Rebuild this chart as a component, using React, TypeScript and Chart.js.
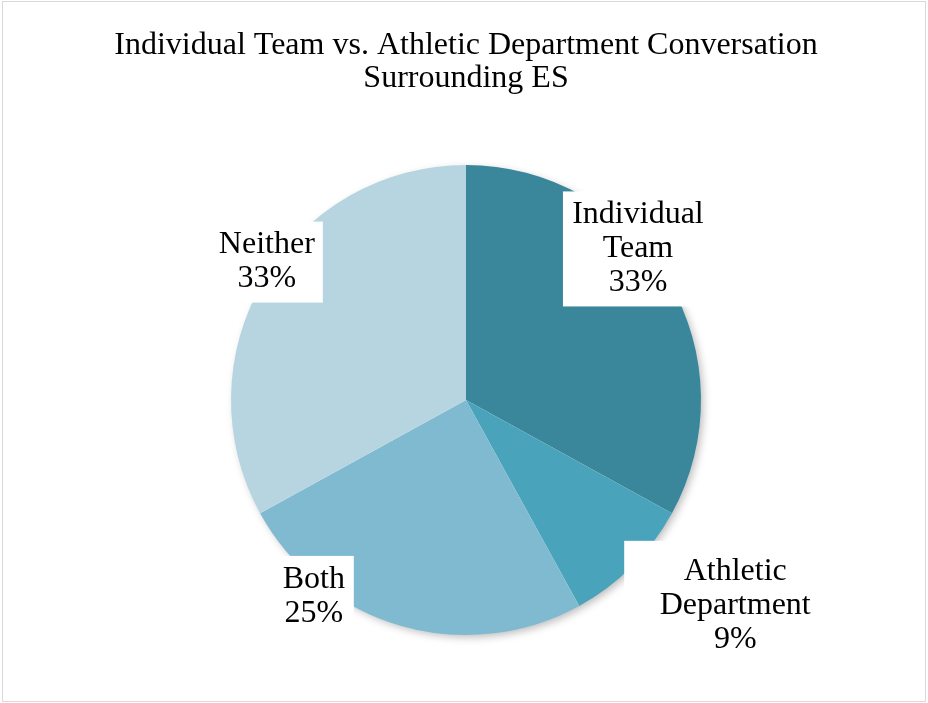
import React, { useEffect, useRef } from "react";
import { Chart, registerables } from "chart.js";

Chart.register(...registerables);

// ---- data ----
const categories = ["Individual Team", "Athletic Department", "Both", "Neither"];
const labelLines = [["Individual", "Team"], ["Athletic", "Department"], ["Both"], ["Neither"]];
const values = [33, 9, 25, 33];
const colors = ["#3A879B", "#49A3BA", "#7FBAD0", "#B7D5E0"];
const titleLines = ["Individual Team vs. Athletic Department Conversation", "Surrounding ES"];

// ---- label placement (style): angle offset from slice middle (deg), radius factor, box size ----
const labelAngleOffset = [-10.7, -7.6, 21.5, 4.1];
const labelRadiusFactor = [0.974, 1.442, 1.059, 1.031];
const labelBoxSize = [
  [150, 115],
  [222, 130],
  [80, 82],
  [112, 81],
];

const FONT = "'Liberation Serif', 'Times New Roman', serif";

const labelPlugin = {
  id: "excelLabels",
  beforeDatasetsDraw(chart: any) {
    const meta = chart.getDatasetMeta(0);
    const arc = meta.data[0];
    if (!arc) return;
    const { x, y, outerRadius } = arc.getProps(["x", "y", "outerRadius"], true);
    const ctx = chart.ctx;
    ctx.save();
    ctx.shadowColor = "rgba(0,0,0,0.28)";
    ctx.shadowBlur = 8;
    ctx.shadowOffsetX = 3;
    ctx.shadowOffsetY = 3;
    ctx.fillStyle = "#ffffff";
    ctx.beginPath();
    ctx.arc(x, y, outerRadius - 1, 0, Math.PI * 2);
    ctx.fill();
    ctx.restore();
  },
  afterDatasetsDraw(chart: any) {
    const ctx = chart.ctx;
    const meta = chart.getDatasetMeta(0);
    const total = values.reduce((a, b) => a + b, 0);
    meta.data.forEach((el: any, i: number) => {
      const p = el.getProps(["x", "y", "startAngle", "endAngle", "outerRadius"], true);
      const mid = (p.startAngle + p.endAngle) / 2 + (labelAngleOffset[i] * Math.PI) / 180;
      const r = p.outerRadius * labelRadiusFactor[i];
      const cx = p.x + Math.cos(mid) * r;
      const cy = p.y + Math.sin(mid) * r;
      const [bw, bh] = labelBoxSize[i];
      ctx.save();
      ctx.fillStyle = "#ffffff";
      ctx.fillRect(cx - bw / 2, cy - bh / 2, bw, bh);
      const lines = [...labelLines[i], Math.round((values[i] / total) * 100) + "%"];
      const lh = 34;
      ctx.fillStyle = "#000000";
      ctx.font = `32px ${FONT}`;
      ctx.textAlign = "center";
      ctx.textBaseline = "middle";
      lines.forEach((t, k) => {
        ctx.fillText(t, cx, cy + (k - (lines.length - 1) / 2) * lh);
      });
      ctx.restore();
    });
  },
  afterDraw(chart: any) {
    const ctx = chart.ctx;
    ctx.save();
    ctx.fillStyle = "#000000";
    ctx.font = `32px ${FONT}`;
    ctx.textAlign = "center";
    ctx.textBaseline = "middle";
    titleLines.forEach((t, k) => {
      ctx.fillText(t, 466, 46 + k * 33);
    });
    ctx.restore();
  },
};

export default function App() {
  const ref = useRef<HTMLCanvasElement | null>(null);
  useEffect(() => {
    if (!ref.current) return;
    const chart = new Chart(ref.current, {
      type: "pie",
      data: {
        labels: categories,
        datasets: [
          {
            data: values,
            backgroundColor: colors,
            borderWidth: 0,
          },
        ],
      },
      options: {
        animation: false,
        responsive: false,
        layout: { padding: { left: 4, right: 0, top: 165, bottom: 68 } },
        plugins: {
          legend: { display: false },
          tooltip: { enabled: false },
          title: { display: false },
        },
      },
      plugins: [labelPlugin],
    });
    return () => chart.destroy();
  }, []);

  return (
    <div style={{ position: "fixed", left: 0, top: 0, width: 928, height: 703, background: "#fff" }}>
      <canvas ref={ref} width={928} height={703} style={{ display: "block" }} />
      <div
        style={{
          position: "absolute",
          left: 2,
          top: 1,
          width: 924,
          height: 701,
          boxSizing: "border-box",
          border: "1px solid #d9d9d9",
          pointerEvents: "none",
        }}
      />
    </div>
  );
}
